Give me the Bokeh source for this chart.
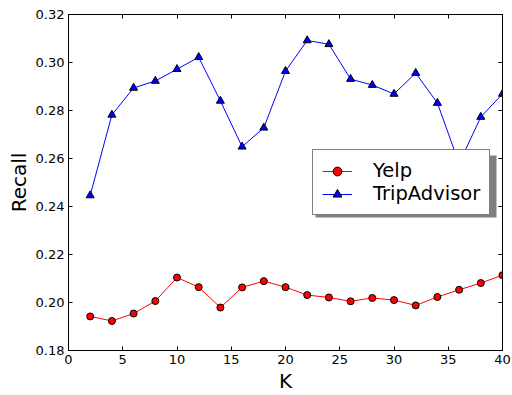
from bokeh.plotting import figure
from bokeh.models import (Range1d, LinearAxis, Legend, LegendItem, FixedTicker,
                          CustomJSTickFormatter, BoxAnnotation)
from bokeh.embed import file_html
from bokeh.resources import INLINE

k = [2, 4, 6, 8, 10, 12, 14, 16, 18, 20, 22, 24, 26, 28, 30, 32, 34, 36, 38, 40]
yelp = [0.1942, 0.1923, 0.1954, 0.2006, 0.2104, 0.2064, 0.1979, 0.2063, 0.2089, 0.2064,
        0.2031, 0.2021, 0.2005, 0.2019, 0.2010, 0.1988, 0.2023, 0.2053, 0.2081, 0.2114]
trip = [0.2446, 0.2782, 0.2894, 0.2923, 0.2972, 0.3022, 0.2840, 0.2649, 0.2728, 0.2964,
        0.3092, 0.3076, 0.2931, 0.2906, 0.2869, 0.2956, 0.2831, 0.2579, 0.2773, 0.2869]
x_ticks = [0, 5, 10, 15, 20, 25, 30, 35, 40]
y_ticks = [0.18, 0.20, 0.22, 0.24, 0.26, 0.28, 0.30, 0.32]

FONT = "DejaVu Sans"

p = figure(width=512, height=395, output_backend="svg", toolbar_location=None,
           x_range=Range1d(0, 40), y_range=Range1d(0.18, 0.32),
           min_border_left=68, min_border_right=10, min_border_top=14, min_border_bottom=43)
p.xgrid.visible = False
p.ygrid.visible = False
p.outline_line_color = "black"
p.outline_line_width = 1
p.background_fill_color = "white"
p.border_fill_color = "white"

def style_axis(ax):
    ax.axis_line_color = "black"
    ax.major_tick_in = 4
    ax.major_tick_out = 0
    ax.minor_tick_in = 0
    ax.minor_tick_out = 0
    ax.major_tick_line_color = "black"
    ax.major_label_text_font = FONT
    ax.major_label_text_font_size = "13px"
    ax.major_label_text_color = "black"
    ax.major_label_standoff = 4

p.xaxis.ticker = FixedTicker(ticks=x_ticks)
p.yaxis.ticker = FixedTicker(ticks=y_ticks)
p.yaxis.formatter = CustomJSTickFormatter(code="return tick.toFixed(2);")
for ax in p.xaxis + p.yaxis:
    style_axis(ax)
p.xaxis.axis_label = "K"
p.yaxis.axis_label = "Recall"
for ax in p.xaxis + p.yaxis:
    ax.axis_label_text_font = FONT
    ax.axis_label_text_font_size = "20px"
    ax.axis_label_text_font_style = "normal"
    ax.axis_label_text_color = "black"
    ax.axis_label_standoff = 2

blank = CustomJSTickFormatter(code="return '';")
top = LinearAxis(ticker=FixedTicker(ticks=x_ticks), formatter=blank)
right = LinearAxis(ticker=FixedTicker(ticks=y_ticks), formatter=blank)
style_axis(top)
style_axis(right)
top.major_label_standoff = 0
right.major_label_standoff = 0
p.add_layout(top, "above")
p.add_layout(right, "right")

l1 = p.line(k, yelp, line_color="#ff0000", line_width=1)
m1 = p.scatter(k, yelp, marker="circle", size=7, fill_color="#ff0000", line_color="black", line_width=1)
l2 = p.line(k, trip, line_color="#0000ff", line_width=1)
m2 = p.scatter(k, trip, marker="triangle", size=8, fill_color="#0000ff", line_color="black", line_width=1)

# legend drop shadow (screen units, relative to the plot frame's bottom-left)
shadow = BoxAnnotation(left=247, right=428, bottom=133, top=195,
                       left_units="screen", right_units="screen",
                       top_units="screen", bottom_units="screen",
                       fill_color="#808080", fill_alpha=1, line_color=None)
p.add_layout(shadow)

legend = Legend(items=[LegendItem(label="Yelp", renderers=[l1, m1]),
                       LegendItem(label="TripAdvisor", renderers=[l2, m2])],
                location=(244, 135))
legend.label_text_font = FONT
legend.label_text_font_size = "19.5px"
legend.label_text_color = "black"
legend.glyph_width = 30
legend.glyph_height = 22
legend.label_standoff = 21
legend.padding = 9
legend.margin = 0
legend.spacing = 0
legend.border_line_color = "black"
legend.border_line_width = 1
legend.background_fill_alpha = 1
p.add_layout(legend, "center")

open("out.html", "w").write(file_html(p, INLINE))
